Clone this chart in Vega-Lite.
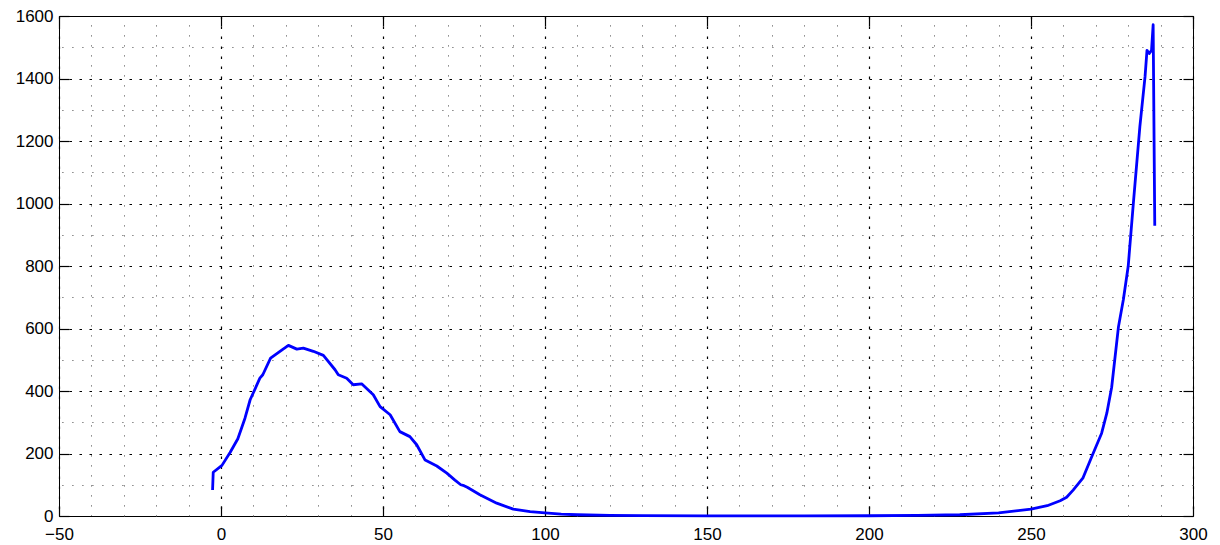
{
  "$schema": "https://vega.github.io/schema/vega-lite/v6.json",
  "width": 1134,
  "height": 500,
  "autosize": {"type": "none"},
  "padding": {"left": 59, "top": 16, "right": 27, "bottom": 29},
  "background": "white",
  "config": {
    "view": {"stroke": "black", "strokeWidth": 1},
    "axis": {"labelFont": "Liberation Sans", "labelFontSize": 17, "labelColor": "black", "title": null}
  },
  "data": {
    "values": [
      {"x": -2.6, "y": 83}, {"x": -2.4, "y": 140}, {"x": 0.3, "y": 162}, {"x": 2.8, "y": 203},
      {"x": 5.2, "y": 247}, {"x": 7.4, "y": 313}, {"x": 9.0, "y": 372}, {"x": 12.0, "y": 441},
      {"x": 12.9, "y": 452}, {"x": 15.3, "y": 505}, {"x": 18.2, "y": 527}, {"x": 20.8, "y": 546},
      {"x": 23.4, "y": 534}, {"x": 25.4, "y": 537}, {"x": 28.5, "y": 527}, {"x": 31.6, "y": 514},
      {"x": 35.2, "y": 468}, {"x": 36.2, "y": 452}, {"x": 38.8, "y": 441}, {"x": 40.8, "y": 420},
      {"x": 43.4, "y": 423}, {"x": 47.0, "y": 388}, {"x": 49.1, "y": 350}, {"x": 52.2, "y": 324},
      {"x": 55.2, "y": 270}, {"x": 58.3, "y": 254}, {"x": 60.4, "y": 228}, {"x": 63.0, "y": 179},
      {"x": 66.6, "y": 160}, {"x": 69.7, "y": 137}, {"x": 72.2, "y": 115}, {"x": 74.0, "y": 100},
      {"x": 75.0, "y": 97}, {"x": 76.0, "y": 92}, {"x": 79.9, "y": 68}, {"x": 85.1, "y": 41},
      {"x": 90.2, "y": 22}, {"x": 95.4, "y": 14}, {"x": 100, "y": 10}, {"x": 105, "y": 6},
      {"x": 110, "y": 4}, {"x": 120, "y": 2}, {"x": 130, "y": 1}, {"x": 150, "y": 0.5},
      {"x": 180, "y": 0.4}, {"x": 200, "y": 0.8}, {"x": 215, "y": 2}, {"x": 228, "y": 4},
      {"x": 240, "y": 10}, {"x": 250, "y": 22}, {"x": 255, "y": 33}, {"x": 259, "y": 49},
      {"x": 261, "y": 60}, {"x": 263, "y": 83}, {"x": 266, "y": 121}, {"x": 269, "y": 196},
      {"x": 271.8, "y": 265}, {"x": 273.4, "y": 329}, {"x": 274.9, "y": 412}, {"x": 277, "y": 606},
      {"x": 278.5, "y": 692}, {"x": 280, "y": 799}, {"x": 281.6, "y": 1002}, {"x": 283.6, "y": 1246},
      {"x": 285.2, "y": 1406}, {"x": 285.8, "y": 1490}, {"x": 286.5, "y": 1480}, {"x": 287.2, "y": 1490},
      {"x": 287.7, "y": 1572}, {"x": 288.2, "y": 929}
    ]
  },
  "resolve": {
    "scale": {"x": "shared", "y": "shared"},
    "axis": {"x": "independent", "y": "independent"}
  },
  "layer": [
    {
      "mark": {"type": "line", "opacity": 0},
      "encoding": {
        "x": {"field": "x", "type": "quantitative", "scale": {"domain": [-50, 300], "nice": false, "zero": false},
          "axis": {"orient": "top", "values": [-50, -40, -30, -20, -10, 0, 10, 20, 30, 40, 50, 60, 70, 80, 90, 100, 110, 120, 130, 140, 150, 160, 170, 180, 190, 200, 210, 220, 230, 240, 250, 260, 270, 280, 290, 300],
            "grid": true, "gridColor": "#666666", "gridDash": [1.2, 8.8], "gridWidth": 1,
            "gridOpacity": {"condition": {"test": "datum.value % 50 === 0", "value": 0}, "value": 1},
            "ticks": true, "tickSize": -10, "tickColor": "black", "tickWidth": 1.2,
            "tickOpacity": {"condition": {"test": "datum.value % 50 === 0", "value": 1}, "value": 0},
            "labels": false, "domain": false}},
        "y": {"field": "y", "type": "quantitative", "scale": {"domain": [0, 1600], "nice": false},
          "axis": {"orient": "right", "values": [0, 100, 200, 300, 400, 500, 600, 700, 800, 900, 1000, 1100, 1200, 1300, 1400, 1500, 1600],
            "grid": true, "gridColor": "#666666", "gridDash": [1.2, 8.8], "gridWidth": 1,
            "gridOpacity": {"condition": {"test": "datum.value % 200 === 0", "value": 0}, "value": 1},
            "ticks": true, "tickSize": -10, "tickColor": "black", "tickWidth": 1.2,
            "tickOpacity": {"condition": {"test": "datum.value % 200 === 0", "value": 1}, "value": 0},
            "labels": false, "domain": false}}
      }
    },
    {
      "mark": {"type": "line", "opacity": 0},
      "encoding": {
        "x": {"field": "x", "type": "quantitative",
          "axis": {"orient": "bottom", "values": [-50, 0, 50, 100, 150, 200, 250, 300],
            "grid": true, "gridColor": "black", "gridDash": [2.5, 7.5], "gridWidth": 1.2, "gridOpacity": 1,
            "ticks": true, "tickSize": -10, "tickColor": "black", "tickWidth": 1.2,
            "labels": true, "labelPadding": 20, "labelFlush": false, "domain": false}},
        "y": {"field": "y", "type": "quantitative",
          "axis": {"orient": "left", "values": [0, 200, 400, 600, 800, 1000, 1200, 1400, 1600],
            "grid": true, "gridColor": "black", "gridDash": [2.5, 7.5], "gridWidth": 1.2, "gridOpacity": 1,
            "ticks": true, "tickSize": -10, "tickColor": "black", "tickWidth": 1.2,
            "labels": true, "labelPadding": 16, "labelFlush": false, "domain": false, "format": "d"}}
      }
    },
    {
      "mark": {"type": "line", "color": "#0000FF", "strokeWidth": 2.8, "strokeJoin": "round", "strokeCap": "butt"},
      "encoding": {
        "x": {"field": "x", "type": "quantitative", "axis": null},
        "y": {"field": "y", "type": "quantitative", "axis": null}
      }
    }
  ]
}
